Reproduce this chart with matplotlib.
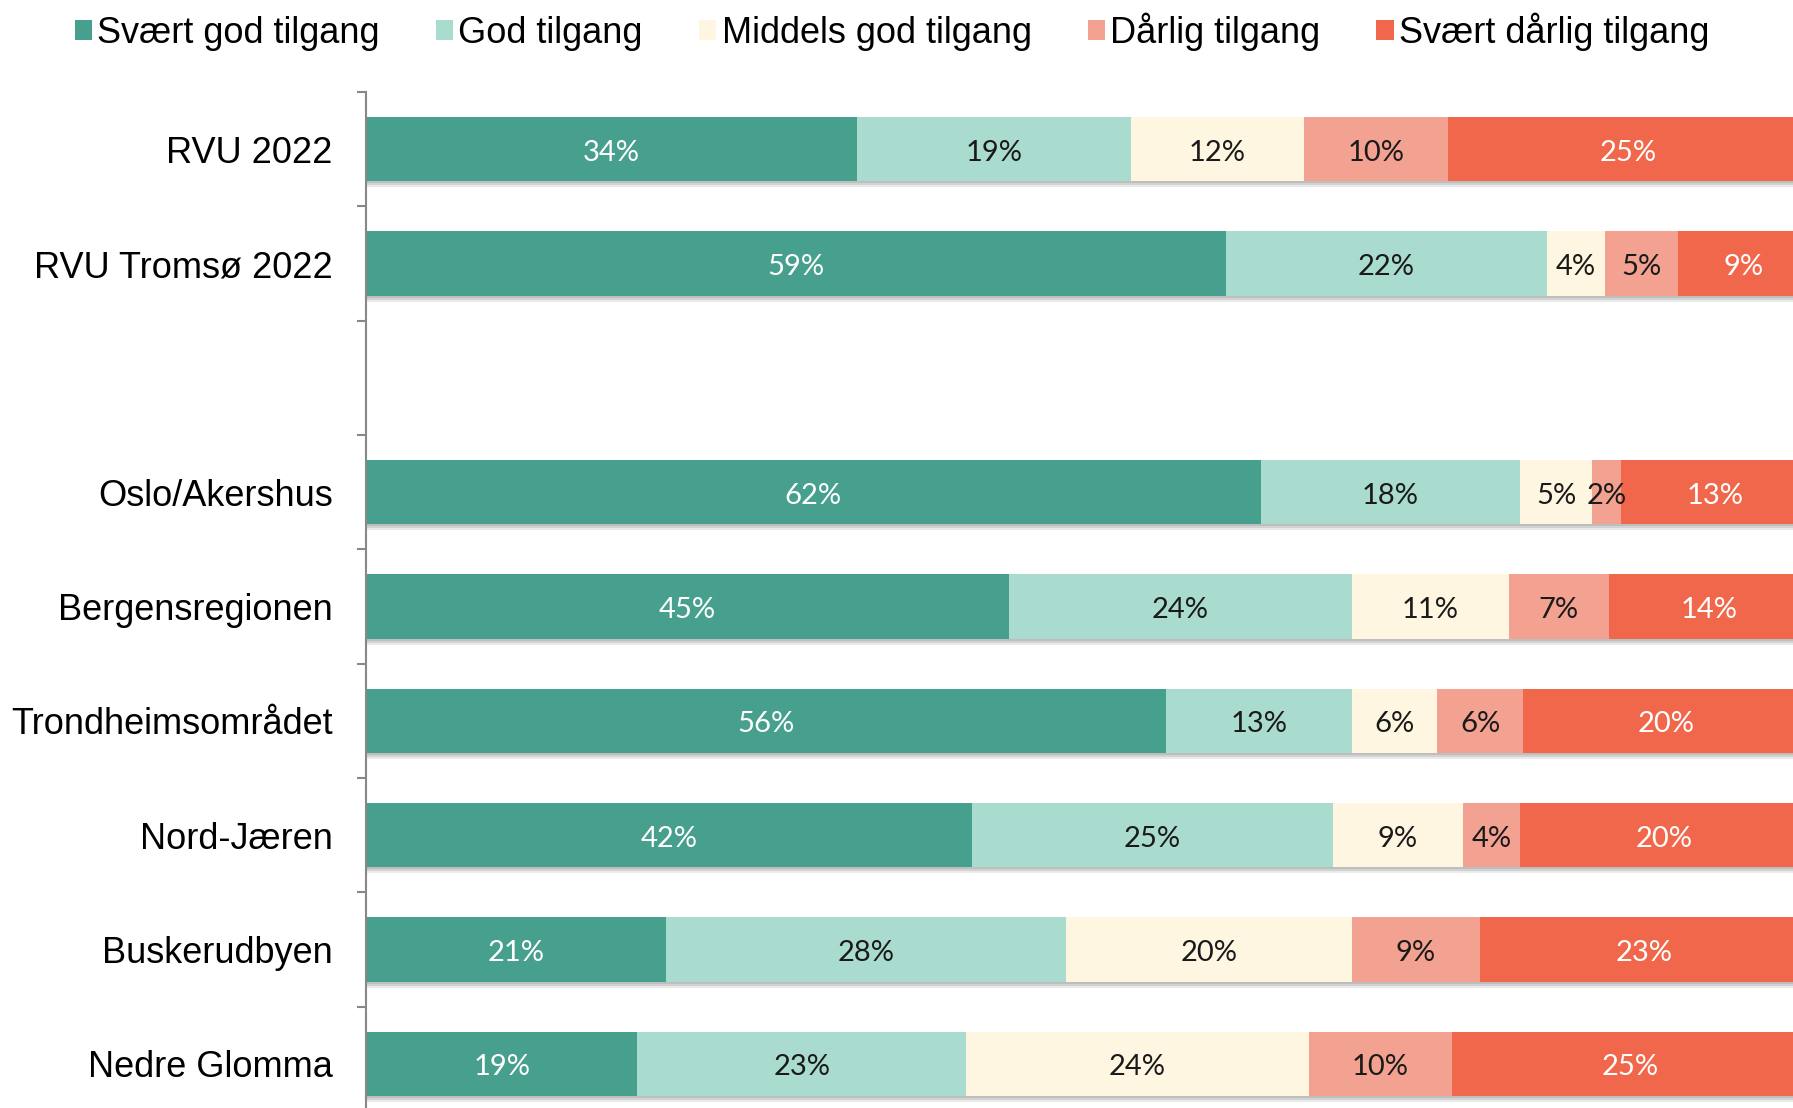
import matplotlib
matplotlib.use("Agg")
import matplotlib.pyplot as plt
import matplotlib.patheffects as pe
from matplotlib.patches import Patch
import numpy as np

# Data (share of respondents, %)
categories = ["RVU 2022", "RVU Tromsø 2022", "Oslo/Akershus", "Bergensregionen",
              "Trondheimsområdet", "Nord-Jæren", "Buskerudbyen", "Nedre Glomma"]
levels = ["Svært god tilgang", "God tilgang", "Middels god tilgang",
          "Dårlig tilgang", "Svært dårlig tilgang"]
svaert_god = [34, 59, 62, 45, 56, 42, 21, 19]
god = [19, 22, 18, 24, 13, 25, 28, 23]
middels_god = [12, 4, 5, 11, 6, 9, 20, 24]
darlig = [10, 5, 2, 7, 6, 4, 9, 10]
svaert_darlig = [25, 9, 13, 14, 20, 20, 23, 25]

colors = ["#46A08D", "#AADBCF", "#FEF6E0", "#F3A191", "#F1674B"]
text_colors = ["white", "#1a1a1a", "#1a1a1a", "#1a1a1a", "white"]

series = np.array([svaert_god, god, middels_god, darlig, svaert_darlig], dtype=float)
shares = series / series.sum(axis=0) * 100  # 100 % stacked

# blank slot after the two RVU rows
idx = np.arange(len(categories))
ypos = idx + (idx >= 2)

fig = plt.figure(figsize=(17.93, 11.08), dpi=100)
ax = fig.add_axes([366 / 1793, (1108 - 1121) / 1108, 1 - 366 / 1793, 1029 / 1108])

# soft drop shadow under the bars
shadow = [pe.SimplePatchShadow(offset=(0, -1.5), shadow_rgbFace="#909090", alpha=0.55),
          pe.SimplePatchShadow(offset=(0, -3), shadow_rgbFace="#a8a8a8", alpha=0.45),
          pe.SimplePatchShadow(offset=(0, -4.5), shadow_rgbFace="#cccccc", alpha=0.4),
          pe.Normal()]

left = np.zeros(len(categories))
for i, name in enumerate(levels):
    ax.barh(ypos, shares[i], left=left, height=0.56, color=colors[i],
            label=name, path_effects=shadow, zorder=2)
    for y, l, w, v in zip(ypos, left, shares[i], series[i]):
        ax.text(l + w / 2, y + 0.03, f"{v:.0f}%", ha="center", va="center",
                color=text_colors[i], fontsize=21, family="Lato", zorder=3)
    left += shares[i]

ax.set_xlim(0, 98.9)
ax.set_ylim(8.5, -0.5)
ax.set_xticks([])
ax.set_yticks(ypos)
ax.set_yticklabels(categories, family="Liberation Sans", fontsize=26)
ax.set_yticks(np.arange(-0.5, 9.0, 1.0), minor=True)
ax.tick_params(axis="y", which="major", length=0, pad=24)
ax.tick_params(axis="y", which="minor", length=6.5, width=1.5, color="#888888")
for s in ["top", "right", "bottom"]:
    ax.spines[s].set_visible(False)
ax.spines["left"].set_color("#888888")
ax.spines["left"].set_linewidth(1.5)

handles = [Patch(facecolor=c, edgecolor="none") for c in colors]
fig.legend(handles, levels, loc="center", bbox_to_anchor=(0.4975, 1 - 32 / 1108),
           ncol=5, frameon=False, prop={"family": "Liberation Sans", "size": 26},
           handlelength=0.48, handleheight=0.48, handletextpad=0.15,
           columnspacing=1.55)

fig.savefig("out.png", dpi=100)
